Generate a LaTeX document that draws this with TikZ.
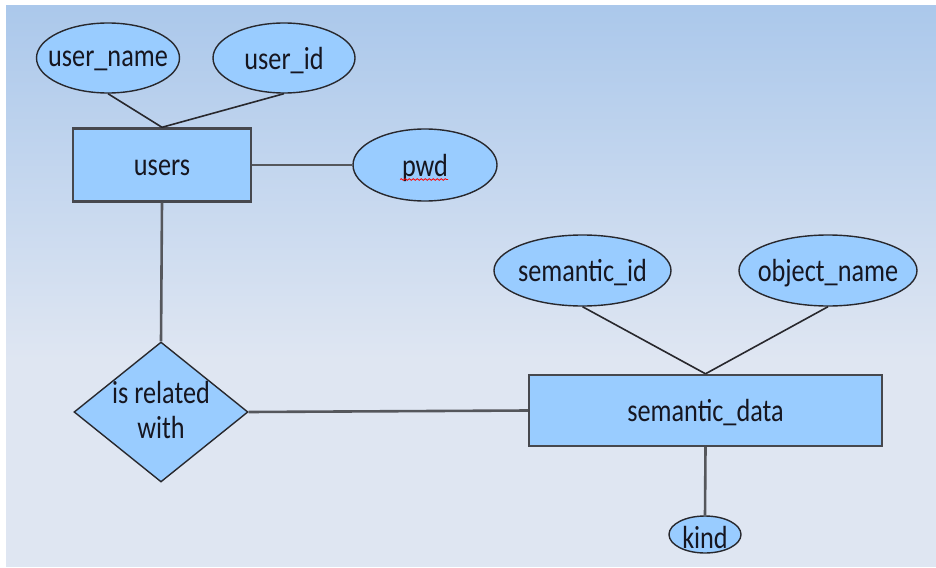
\documentclass[tikz,border=0pt]{standalone}
\usepackage{fontspec}
\setmainfont{Carlito}[FakeStretch=0.82]
\usetikzlibrary{shapes.geometric,decorations.pathmorphing}
\definecolor{fillblue}{RGB}{153,204,255}
\definecolor{edgedark}{RGB}{40,40,45}
\definecolor{edgegray}{RGB}{70,72,78}
\definecolor{linegray}{RGB}{85,87,92}
\definecolor{bgtop}{RGB}{171,200,235}
\definecolor{bgbot}{RGB}{223,230,242}
\definecolor{txt}{RGB}{22,22,32}
\tikzset{
  every node/.style={font=\fontsize{32}{35}\selectfont, text=txt},
  txtlbl/.style={anchor=base, yshift=-2.5pt, inner sep=0pt},
  attr/.style={ellipse, draw=edgedark, line width=1.4pt, fill=fillblue, inner sep=0pt},
  entity/.style={rectangle, draw=edgegray, line width=2.4pt, fill=fillblue, inner sep=0pt},
  relship/.style={diamond, draw=edgedark, line width=1.4pt, fill=fillblue, inner sep=0pt},
  link/.style={draw=linegray, line width=2.6pt},
  thinlink/.style={draw=edgedark, line width=1.6pt},
}
\begin{document}
\begin{tikzpicture}[x=1pt,y=-1pt]
\useasboundingbox (0,0) rectangle (936,567);
\fill[white] (0,0) rectangle (936,567);
\shade[top color=bgtop,bottom color=bgbot] (6,6) rectangle (936,360);
\fill[bgbot] (6,359.5) rectangle (936,567);

\node[attr, minimum width=143, minimum height=70, label={[txtlbl]center:user\_name}] (un) at (108,58) {};
\node[attr, minimum width=142, minimum height=70, label={[txtlbl]center:user\_id}] (uid) at (284,58) {};
\node[entity, minimum width=178, minimum height=73, label={[txtlbl]center:users}] (users) at (162,165) {};
\node[attr, minimum width=144, minimum height=72, label={[txtlbl]center:pwd}] (pwd) at (425,165) {};
\node[relship, minimum width=174, minimum height=140, label={[align=center, yshift=2pt]center:is related\\with}] (rel) at (161,412) {};
\node[attr, minimum width=177, minimum height=71, label={[txtlbl]center:semantic\_id}] (sid) at (582.5,270.5) {};
\node[attr, minimum width=178, minimum height=71, label={[txtlbl]center:object\_name}] (obj) at (828,270.5) {};
\node[entity, minimum width=353, minimum height=71, label={[txtlbl]center:semantic\_data}] (sd) at (705.5,410.5) {};
\node[attr, minimum width=72, minimum height=37, label={[txtlbl]center:kind}] (kind) at (705,534.5) {};

\draw[thinlink] (un.south) -- (users.north);
\draw[thinlink] (uid.south) -- (users.north);
\draw[link] (users.east) -- (pwd.west);
\draw[link] (users.south) -- (rel.north);
\draw[link] (rel.east) -- (sd.west);
\draw[thinlink] (sid.south) -- (sd.north);
\draw[thinlink] (obj.south) -- (sd.north);
\draw[link] (sd.south) -- (kind.north);

\draw[red, line width=0.8pt, decorate, decoration={snake, amplitude=0.8pt, segment length=4pt}] (400,179.5) -- (448,179.5);
\end{tikzpicture}
\end{document}
